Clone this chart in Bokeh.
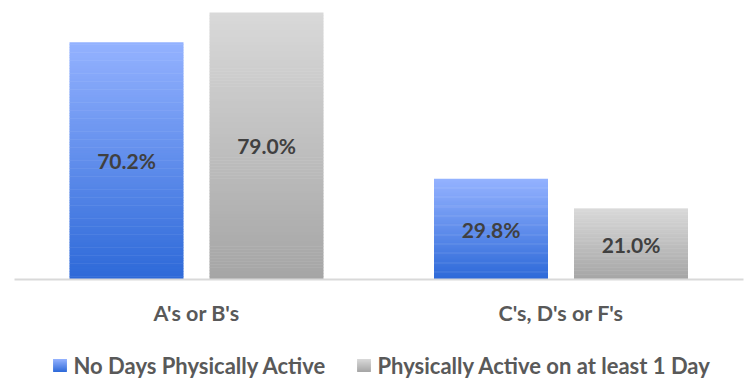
from bokeh.plotting import figure
from bokeh.models import Range1d, ColumnDataSource
from bokeh.core.properties import value
from bokeh.embed import file_html
from bokeh.resources import INLINE

# ---- data ----
categories = ["A's or B's", "C's, D's or F's"]
series_names = ["No Days Physically Active", "Physically Active on at least 1 Day"]
no_days_active = [70.2, 29.8]
active_1_day = [79.0, 21.0]

# ---- style ----
W, H = 747, 379
GROUP_W_PX = 364.5
GROUP0_PX = 196.0
BASE_PX = 279.0
PX_PER_UNIT = 3.38
BAR_W = 114 / GROUP_W_PX
BAR_OFF = 70 / GROUP_W_PX
blue_top, blue_bot = (148, 178, 255), (45, 105, 216)
gray_top, gray_bot = (217, 217, 217), (165, 165, 165)
FONT = value("Lato")


def xd(px):
    return (px - GROUP0_PX) / GROUP_W_PX


def yd(py):
    return (BASE_PX - py) / PX_PER_UNIT


def mix(c_top, c_bot, t):
    # t=0 bottom, t=1 top
    r, g, b = (round(c_bot[i] + (c_top[i] - c_bot[i]) * t) for i in range(3))
    return "#%02x%02x%02x" % (r, g, b)


p = figure(width=W, height=H, x_range=Range1d(xd(0), xd(W)),
           y_range=Range1d(yd(H), yd(0)), output_backend="svg",
           toolbar_location=None, x_axis_location=None, y_axis_location=None,
           min_border=0, min_border_left=0, min_border_right=0,
           min_border_top=0, min_border_bottom=0)
p.grid.visible = False
p.outline_line_color = None
p.background_fill_color = "white"
p.border_fill_color = "white"

N = 90


def gradient_rect(left, right, bottom, top, ctop, cbot, store):
    h = top - bottom
    eps = 0.5 / PX_PER_UNIT
    for k in range(N):
        b = bottom + h * k / N
        t = min(top, bottom + h * (k + 1) / N + eps)
        store["left"].append(left)
        store["right"].append(right)
        store["bottom"].append(b)
        store["top"].append(t)
        store["color"].append(mix(ctop, cbot, (k + 0.5) / N))


strips = dict(left=[], right=[], bottom=[], top=[], color=[])
for i in range(len(categories)):
    cx_b = i - BAR_OFF
    cx_g = i + BAR_OFF
    gradient_rect(cx_b - BAR_W / 2, cx_b + BAR_W / 2, 0, no_days_active[i], blue_top, blue_bot, strips)
    gradient_rect(cx_g - BAR_W / 2, cx_g + BAR_W / 2, 0, active_1_day[i], gray_top, gray_bot, strips)

# legend squares (gradient)
sq = 13
leg_items = [(53, 365, blue_top, blue_bot), (357, 365, gray_top, gray_bot)]
for (lx, ly, ct, cb) in leg_items:
    gradient_rect(xd(lx), xd(lx + sq), yd(ly + sq / 2), yd(ly - sq / 2), ct, cb, strips)

p.quad(left="left", right="right", bottom="bottom", top="top",
       fill_color="color", line_color=None, source=ColumnDataSource(strips))

# baseline
p.segment(x0=[xd(14)], y0=[0], x1=[xd(743)], y1=[0], line_color="#d9d9d9", line_width=2)

# data labels
lx, ly, lt = [], [], []
for i in range(len(categories)):
    lx += [i - BAR_OFF, i + BAR_OFF]
    ly += [no_days_active[i] / 2, active_1_day[i] / 2]
    lt += ["%.1f%%" % no_days_active[i], "%.1f%%" % active_1_day[i]]
p.text(x=lx, y=ly, text=lt, text_font=FONT, text_font_style="bold",
       text_font_size="21px", text_color="#404040", text_align="center",
       text_baseline="middle")

# category labels
p.text(x=list(range(len(categories))), y=[yd(312)] * len(categories), text=categories,
       text_font=FONT, text_font_style="bold", text_font_size="21.5px",
       text_color="#595959", text_align="center", text_baseline="middle")

# legend texts
p.text(x=[xd(73), xd(377)], y=[yd(365), yd(365)], text=series_names,
       text_font=FONT, text_font_style="bold", text_font_size="22px",
       text_color="#595959", text_align="left", text_baseline="middle")

open("out.html", "w").write(file_html(p, INLINE))
